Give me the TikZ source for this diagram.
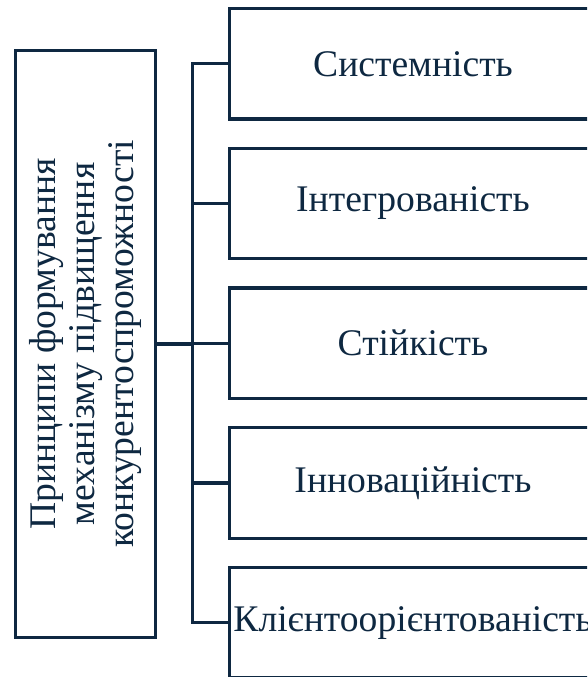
\documentclass[tikz,border=0pt]{standalone}
\usepackage{fontspec}
\setmainfont{Liberation Serif}
\definecolor{navy}{HTML}{0E2841}
\begin{document}
\begin{tikzpicture}[x=0.75pt, y=-0.75pt,
        main/.style={draw=navy, line width=2.4pt, text=navy, inner sep=0pt, font=\fontsize{28.2}{29.5}\selectfont},
        title/.style={main, rotate=90, minimum width=440.25pt, minimum height=105.15pt, align=center},
        item/.style={main, minimum width=275.25pt, minimum height=82.9pt},
        link/.style={draw=navy, line width=2.4pt, line cap=rect}]
            \useasboundingbox (0,0) rectangle (587,677);
            \clip (0,0) rectangle (587,677);

            \node[title] at (85.4, 344) (pr) {Принципи формування\\механізму підвищення\\конкурентоспроможності};

            \node[item] at (413, 63.75) (p1) {Системність};
            \node[item] at (413, 203.5) (p2) {Інтегрованість};
            \node[item] at (413, 343.25) (p3) {Стійкість};
            \node[item] at (413, 483) (p4) {Інноваційність};
            \node[item] at (413, 622.75) (p5) {Клієнтоорієнтованість};

            \coordinate (bus) at (192.5, 344);

            \draw[link] (pr) -- (bus);
            \draw[link] (bus |- p1) -- (bus |- p5);
            \draw[link] (bus |- p1) -- (p1);
            \draw[link] (bus |- p2) -- (p2);
            \draw[link] (bus |- p3) -- (p3);
            \draw[link] (bus |- p4) -- (p4);
            \draw[link] (bus |- p5) -- (p5);
        \end{tikzpicture}
\end{document}
